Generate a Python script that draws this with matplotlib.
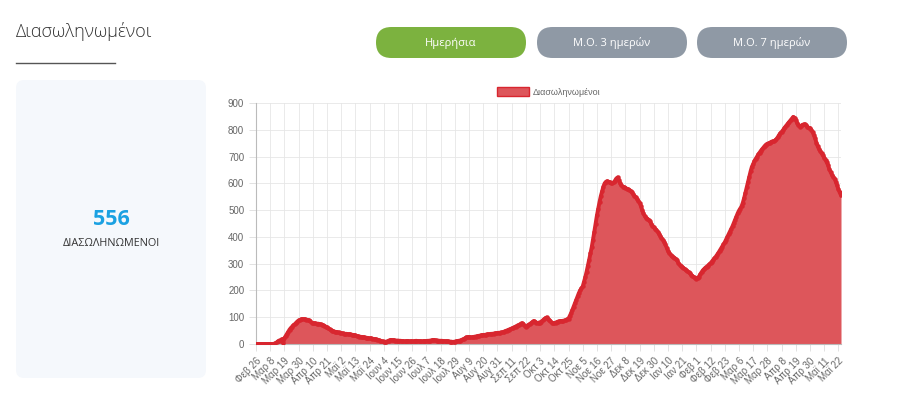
import matplotlib.pyplot as plt
from matplotlib.patches import FancyBboxPatch, Patch
import numpy as np

# intubated patients per day, 26 Feb 2020 -> 24 May 2021 (rows of 11 days)
intubated = [
    0, 0, 0, 0, 0, 0, 0, 0, 0, 0, 0,
    0, 0, 0, 1, 3, 6, 10, 13, 15, 18, 3,
    22, 30, 38, 46, 54, 60, 65, 70, 74, 79, 84,
    88, 90, 92, 93, 93, 92, 91, 90, 88, 85, 80,
    78, 77, 77, 76, 76, 75, 74, 72, 70, 68, 65,
    62, 58, 55, 52, 50, 48, 46, 45, 44, 43, 42,
    41, 40, 39, 38, 38, 37, 36, 36, 35, 34, 33,
    32, 30, 29, 28, 27, 26, 25, 25, 24, 23, 22,
    21, 21, 20, 19, 18, 17, 16, 15, 13, 11, 10,
    9, 8, 9, 11, 13, 15, 15, 14, 14, 13, 13,
    13, 12, 12, 11, 11, 10, 10, 11, 11, 10, 10,
    10, 10, 11, 12, 11, 11, 10, 10, 10, 11, 11,
    11, 12, 12, 13, 14, 15, 15, 14, 13, 13, 12,
    12, 12, 11, 11, 10, 10, 10, 9, 9, 8, 8,
    9, 10, 11, 12, 13, 15, 17, 19, 22, 25, 26,
    26, 25, 25, 26, 27, 28, 29, 30, 31, 32, 33,
    34, 34, 35, 36, 36, 37, 38, 38, 39, 40, 40,
    41, 42, 42, 43, 44, 46, 48, 50, 52, 54, 56,
    58, 60, 62, 65, 68, 70, 72, 76, 78, 75, 68,
    65, 68, 72, 75, 78, 82, 86, 84, 80, 78, 80,
    80, 84, 88, 92, 96, 99, 95, 90, 85, 80, 78,
    77, 80, 82, 84, 85, 86, 86, 87, 88, 90, 92,
    95, 105, 115, 128, 140, 152, 165, 178, 190, 200, 208,
    215, 232, 250, 270, 292, 315, 338, 362, 390, 420, 450,
    480, 505, 530, 552, 570, 588, 600, 606, 608, 606, 604,
    602, 600, 604, 610, 618, 622, 612, 600, 592, 588, 586,
    584, 580, 578, 576, 572, 566, 560, 554, 548, 542, 535,
    528, 516, 500, 488, 478, 472, 468, 464, 458, 450, 442,
    436, 430, 426, 420, 412, 404, 396, 390, 382, 372, 360,
    348, 340, 334, 328, 324, 322, 318, 312, 304, 296, 292,
    288, 284, 280, 276, 272, 268, 264, 258, 254, 250, 248,
    244, 246, 252, 260, 268, 275, 280, 285, 289, 293, 297,
    302, 308, 314, 320, 326, 333, 340, 348, 356, 364, 372,
    380, 390, 400, 410, 420, 430, 440, 452, 464, 476, 488,
    498, 506, 514, 528, 545, 565, 585, 605, 625, 645, 662,
    672, 684, 692, 700, 708, 715, 722, 728, 734, 740, 745,
    748, 750, 752, 755, 757, 758, 760, 765, 772, 780, 787,
    792, 798, 805, 812, 818, 824, 830, 836, 842, 848, 845,
    836, 826, 818, 812, 815, 818, 820, 820, 816, 812, 806,
    806, 800, 792, 780, 768, 752, 738, 728, 720, 712, 704,
    696, 688, 678, 668, 652, 642, 632, 624, 618, 606, 592,
    578, 566, 556,
]

tick_labels = ['Φεβ 26', 'Μαρ 8', 'Μαρ 19', 'Μαρ 30', 'Απρ 10', 'Απρ 21', 'Μαϊ 2',
               'Μαϊ 13', 'Μαϊ 24', 'Ιουν 4', 'Ιουν 15', 'Ιουν 26', 'Ιουλ 7', 'Ιουλ 18',
               'Ιουλ 29', 'Αυγ 9', 'Αυγ 20', 'Αυγ 31', 'Σεπ 11', 'Σεπ 22', 'Οκτ 3',
               'Οκτ 14', 'Οκτ 25', 'Νοε 5', 'Νοε 16', 'Νοε 27', 'Δεκ 8', 'Δεκ 19',
               'Δεκ 30', 'Ιαν 10', 'Ιαν 21', 'Φεβ 1', 'Φεβ 12', 'Φεβ 23', 'Μαρ 6',
               'Μαρ 17', 'Μαρ 28', 'Απρ 8', 'Απρ 19', 'Απρ 30', 'Μαϊ 11', 'Μαϊ 22']
tick_step = 11
y_ticks = [0, 100, 200, 300, 400, 500, 600, 700, 800, 900]

title = 'Διασωληνωμένοι'
buttons = ['Ημερήσια', 'Μ.Ο. 3 ημερών', 'Μ.Ο. 7 ημερών']
latest = intubated[-1]

plt.rcParams['font.family'] = ['Liberation Sans', 'DejaVu Sans']

fig = plt.figure(figsize=(9, 4.17), dpi=100)

# page decoration in pixel coords
bg = fig.add_axes([0, 0, 1, 1], zorder=0)
bg.set_xlim(0, 900)
bg.set_ylim(417, 0)
bg.axis('off')

bg.text(16, 31, title, fontsize=13, color='#333333', va='center', ha='left',
        family=['Open Sans', 'DejaVu Sans'], fontweight='light')
bg.plot([16, 115], [63, 63], color='#555555', lw=1)

btn_x = [376, 537, 697]
btn_col = ['#7cb23f', '#8f99a5', '#8f99a5']
for bx, label, c in zip(btn_x, buttons, btn_col):
    bg.add_patch(FancyBboxPatch((bx, 27), 150, 31, boxstyle='round,pad=0,rounding_size=15.5',
                                fc=c, ec='none'))
    bg.text(bx + 75, 43, label, fontsize=8, color='white', ha='center', va='center',
            family=['Open Sans', 'DejaVu Sans'])

bg.add_patch(FancyBboxPatch((16, 80), 190, 298, boxstyle='round,pad=0,rounding_size=8',
                            fc='#f5f8fc', ec='none'))
bg.text(111, 219, str(latest), fontsize=15.5, fontweight='bold', color='#1ba1e2',
        ha='center', va='center', family=['Open Sans', 'DejaVu Sans'])
bg.text(111, 243, 'ΔΙΑΣΩΛΗΝΩΜΕΝΟΙ', fontsize=7.8, color='#333333', ha='center', va='center',
        family=['Open Sans', 'DejaVu Sans'])

# chart
ax = fig.add_axes([256 / 900, 1 - 344 / 417, 585 / 900, 241 / 417], zorder=1)
ax.patch.set_alpha(0)
x = np.arange(len(intubated))
ax.fill_between(x, intubated, 0, color='#dd565b', lw=0, zorder=2)
ax.plot(x, intubated, color='#d8262f', lw=2.8, marker='o', markersize=3.2,
        markeredgewidth=0, zorder=3)

ax.set_xlim(0, len(intubated) - 1)
ax.set_ylim(0, 900)
ax.set_yticks(y_ticks)
ax.set_xticks(np.arange(len(tick_labels)) * tick_step)
ax.set_xticklabels(tick_labels, rotation=45, ha='right', rotation_mode='anchor')
ax.tick_params(axis='both', labelsize=7, colors='#666666', length=5, width=0.6)
ax.tick_params(axis='both', color='#dddddd')
ax.grid(True, color='#e6e6e6', lw=0.6, zorder=0)
for s in ['top', 'right']:
    ax.spines[s].set_visible(False)
for s in ['left', 'bottom']:
    ax.spines[s].set_color('#bbbbbb')
    ax.spines[s].set_linewidth(0.8)

leg = ax.legend(handles=[Patch(fc='#dd565b', ec='#d8262f', lw=1, label=title)],
                loc='lower center', bbox_to_anchor=(0.5, 1.0), frameon=False,
                fontsize=6.5, handlelength=3.6, handleheight=1.1, borderaxespad=0.3,
                handletextpad=0.4)
for t in leg.get_texts():
    t.set_color('#666666')

fig.savefig('out.png', dpi=100)
